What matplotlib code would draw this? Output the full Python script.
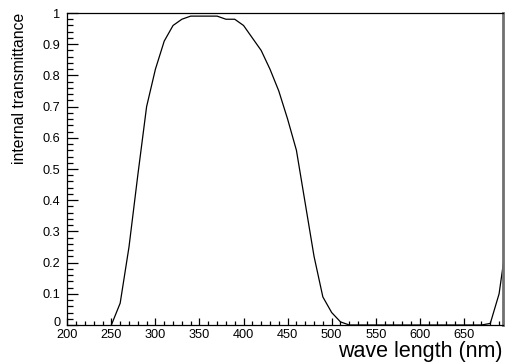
import matplotlib
matplotlib.use('Agg')
import matplotlib.pyplot as plt
from matplotlib.ticker import MultipleLocator, FixedLocator
from matplotlib.transforms import ScaledTranslation

# wavelength (nm) and measured internal transmittance
wavelength = [250, 260, 270, 280, 290, 300, 310, 320, 330, 340,
              350, 360, 370, 380, 390, 400, 410, 420, 430, 440,
              450, 460, 470, 480, 490, 500, 510, 520, 530, 540,
              550, 560, 570, 580, 590, 600, 610, 620, 630, 640,
              650, 660, 670, 680, 690, 700]
transmittance = [0.0, 0.07, 0.25, 0.48, 0.70, 0.82, 0.91, 0.96, 0.98, 0.99,
                 0.99, 0.99, 0.99, 0.98, 0.98, 0.96, 0.92, 0.88, 0.82, 0.75,
                 0.66, 0.56, 0.39, 0.22, 0.09, 0.04, 0.01, 0.0, 0.0, 0.0,
                 0.0, 0.0, 0.0, 0.0, 0.0, 0.0, 0.0, 0.0, 0.0, 0.0,
                 0.0, 0.0, 0.0, 0.005, 0.10, 0.30]

x_ticks = [200, 250, 300, 350, 400, 450, 500, 550, 600, 650]
y_ticks = [0, 0.1, 0.2, 0.3, 0.4, 0.5, 0.6, 0.7, 0.8, 0.9, 1.0]
y_tick_labels = ['0', '0.1', '0.2', '0.3', '0.4', '0.5', '0.6', '0.7', '0.8', '0.9', '1']

plt.rcParams['font.family'] = ['Liberation Sans', 'DejaVu Sans']

W, H = 506, 363
fig = plt.figure(figsize=(W / 100, H / 100), dpi=100)
left, right, bottom, top = 67.3, 503.5, 325, 13
ax = fig.add_axes([left / W, (H - bottom) / H, (right - left) / W, (bottom - top) / H])

ax.plot(wavelength, transmittance, color='black', lw=0.9, clip_on=True)

ax.set_xlim(200, 695)
ax.set_ylim(0, 1)

ax.xaxis.set_major_locator(FixedLocator(x_ticks))
ax.xaxis.set_minor_locator(MultipleLocator(10))
ax.set_yticks(y_ticks)
ax.set_yticklabels(y_tick_labels)
ax.yaxis.set_minor_locator(MultipleLocator(0.02))

ax.tick_params(axis='x', which='major', direction='in', length=5, width=0.9,
               labelsize=9.2, pad=3, top=False)
ax.tick_params(axis='x', which='minor', direction='in', length=2.7, width=0.9, top=False)
ax.tick_params(axis='y', which='major', direction='in', length=8, width=0.9,
               labelsize=9.2, pad=5, right=False)
ax.tick_params(axis='y', which='minor', direction='in', length=4, width=0.9, right=False)

# lift the "0" label slightly so it clears the "200" below it
lbl0 = ax.get_yticklabels()[0]
lbl0.set_transform(lbl0.get_transform() + ScaledTranslation(0, 3 / 100, fig.dpi_scale_trans))

for side in ['left', 'bottom', 'top']:
    ax.spines[side].set_linewidth(0.9)
    ax.spines[side].set_color('black')
ax.spines['right'].set_linewidth(2.0)
ax.spines['right'].set_color('#707070')

# ROOT-style axis titles, flush with the axis ends
fig.text(503 / W, 1 - 357 / H, 'wave length (nm)', ha='right', va='baseline',
         fontsize=15.5)
fig.text(24 / W, 1 - 13 / H, 'internal transmittance', ha='right', va='baseline',
         rotation=90, rotation_mode='anchor', fontsize=11.3)

fig.savefig('out.png', dpi=100)
